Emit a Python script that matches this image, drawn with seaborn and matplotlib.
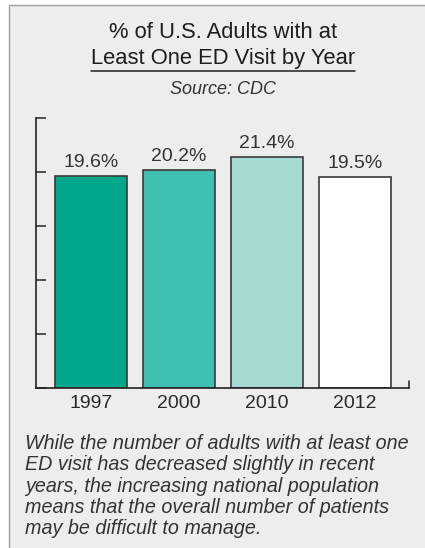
import matplotlib
matplotlib.use("Agg")
import matplotlib.pyplot as plt
from matplotlib.patches import Rectangle
from matplotlib.lines import Line2D
import seaborn as sns
import pandas as pd

# Share of U.S. adults with at least one emergency department visit
years = ["1997", "2000", "2010", "2012"]
pct = [19.6, 20.2, 21.4, 19.5]
bar_colors = ["#00A78B", "#40C0B0", "#A8DAD4", "#FFFFFF"]

title_lines = ["% of U.S. Adults with at", "Least One ED Visit by Year"]
source = "Source: CDC"
caption = [
    "While the number of adults with at least one",
    "ED visit has decreased slightly in recent",
    "years, the increasing national population",
    "means that the overall number of patients",
    "may be difficult to manage.",
]

sns.set_style("white")
plt.rcParams["font.family"] = ["Liberation Sans", "DejaVu Sans"]

W, H = 425, 548
fig = plt.figure(figsize=(W / 100, H / 100), dpi=100, facecolor="white")

# light grey card behind everything
fig.add_artist(Rectangle((8.5 / W, -0.01), 1.0, (H - 5) / H + 0.01,
                         transform=fig.transFigure, facecolor="#EDEDED",
                         edgecolor="#A0A0A0", linewidth=1.0, zorder=0))

ax = fig.add_axes([36 / W, (H - 388) / H, (409 - 36) / W, (388 - 118) / H])
ax.set_facecolor("none")

df = pd.DataFrame({"year": years, "pct": pct})
sns.barplot(data=df, x="year", y="pct", hue="year", palette=bar_colors,
            legend=False, width=0.82, edgecolor="#3A3A3A", linewidth=1.2,
            saturation=1, ax=ax)

ax.set_xlim(-0.62, 3.61)
ax.set_ylim(0, 25)
ax.set_yticks([0, 5, 10, 15, 20, 25])
ax.set_yticklabels([])
ax.tick_params(axis="y", direction="in", length=7, width=1.1, color="#222222", left=True)
ax.tick_params(axis="x", length=0, pad=5, labelsize=14, labelcolor="#2A2A2A")
ax.set_xlabel("")
ax.set_ylabel("")
for s in ["top", "right"]:
    ax.spines[s].set_visible(False)
for s in ["left", "bottom"]:
    ax.spines[s].set_color("#222222")
    ax.spines[s].set_linewidth(1.2)

# closing tick at the right end of the baseline
ax.add_line(Line2D([1, 1], [0, 7 / 270], transform=ax.transAxes,
                   color="#222222", linewidth=1.1, clip_on=False))

for i, v in enumerate(pct):
    ax.annotate(f"{v}%", (i, v), xytext=(0, 6.5), textcoords="offset points",
                ha="center", va="baseline", fontsize=14, color="#333333")

cx = 223 / W
fig.text(cx, 1 - 37.5 / H, title_lines[0], ha="center", va="baseline",
         fontsize=15.8, color="#1E1E1E")
t2 = fig.text(cx, 1 - 64 / H, title_lines[1], ha="center", va="baseline",
              fontsize=15.8, color="#1E1E1E")
fig.canvas.draw()
bb = t2.get_window_extent()
fig.add_artist(Line2D([bb.x0 / W, bb.x1 / W], [1 - 71 / H, 1 - 71 / H],
                      transform=fig.transFigure, color="#1E1E1E", linewidth=1.1))
fig.text(cx, 1 - 94 / H, source, ha="center", va="baseline", fontsize=13,
         style="italic", color="#333333")

for k, line in enumerate(caption):
    fig.text(25 / W, 1 - (449 + 21.25 * k) / H, line, ha="left", va="baseline",
             fontsize=14.2, style="italic", color="#333333")

fig.savefig("out.png", dpi=100, facecolor="white")
